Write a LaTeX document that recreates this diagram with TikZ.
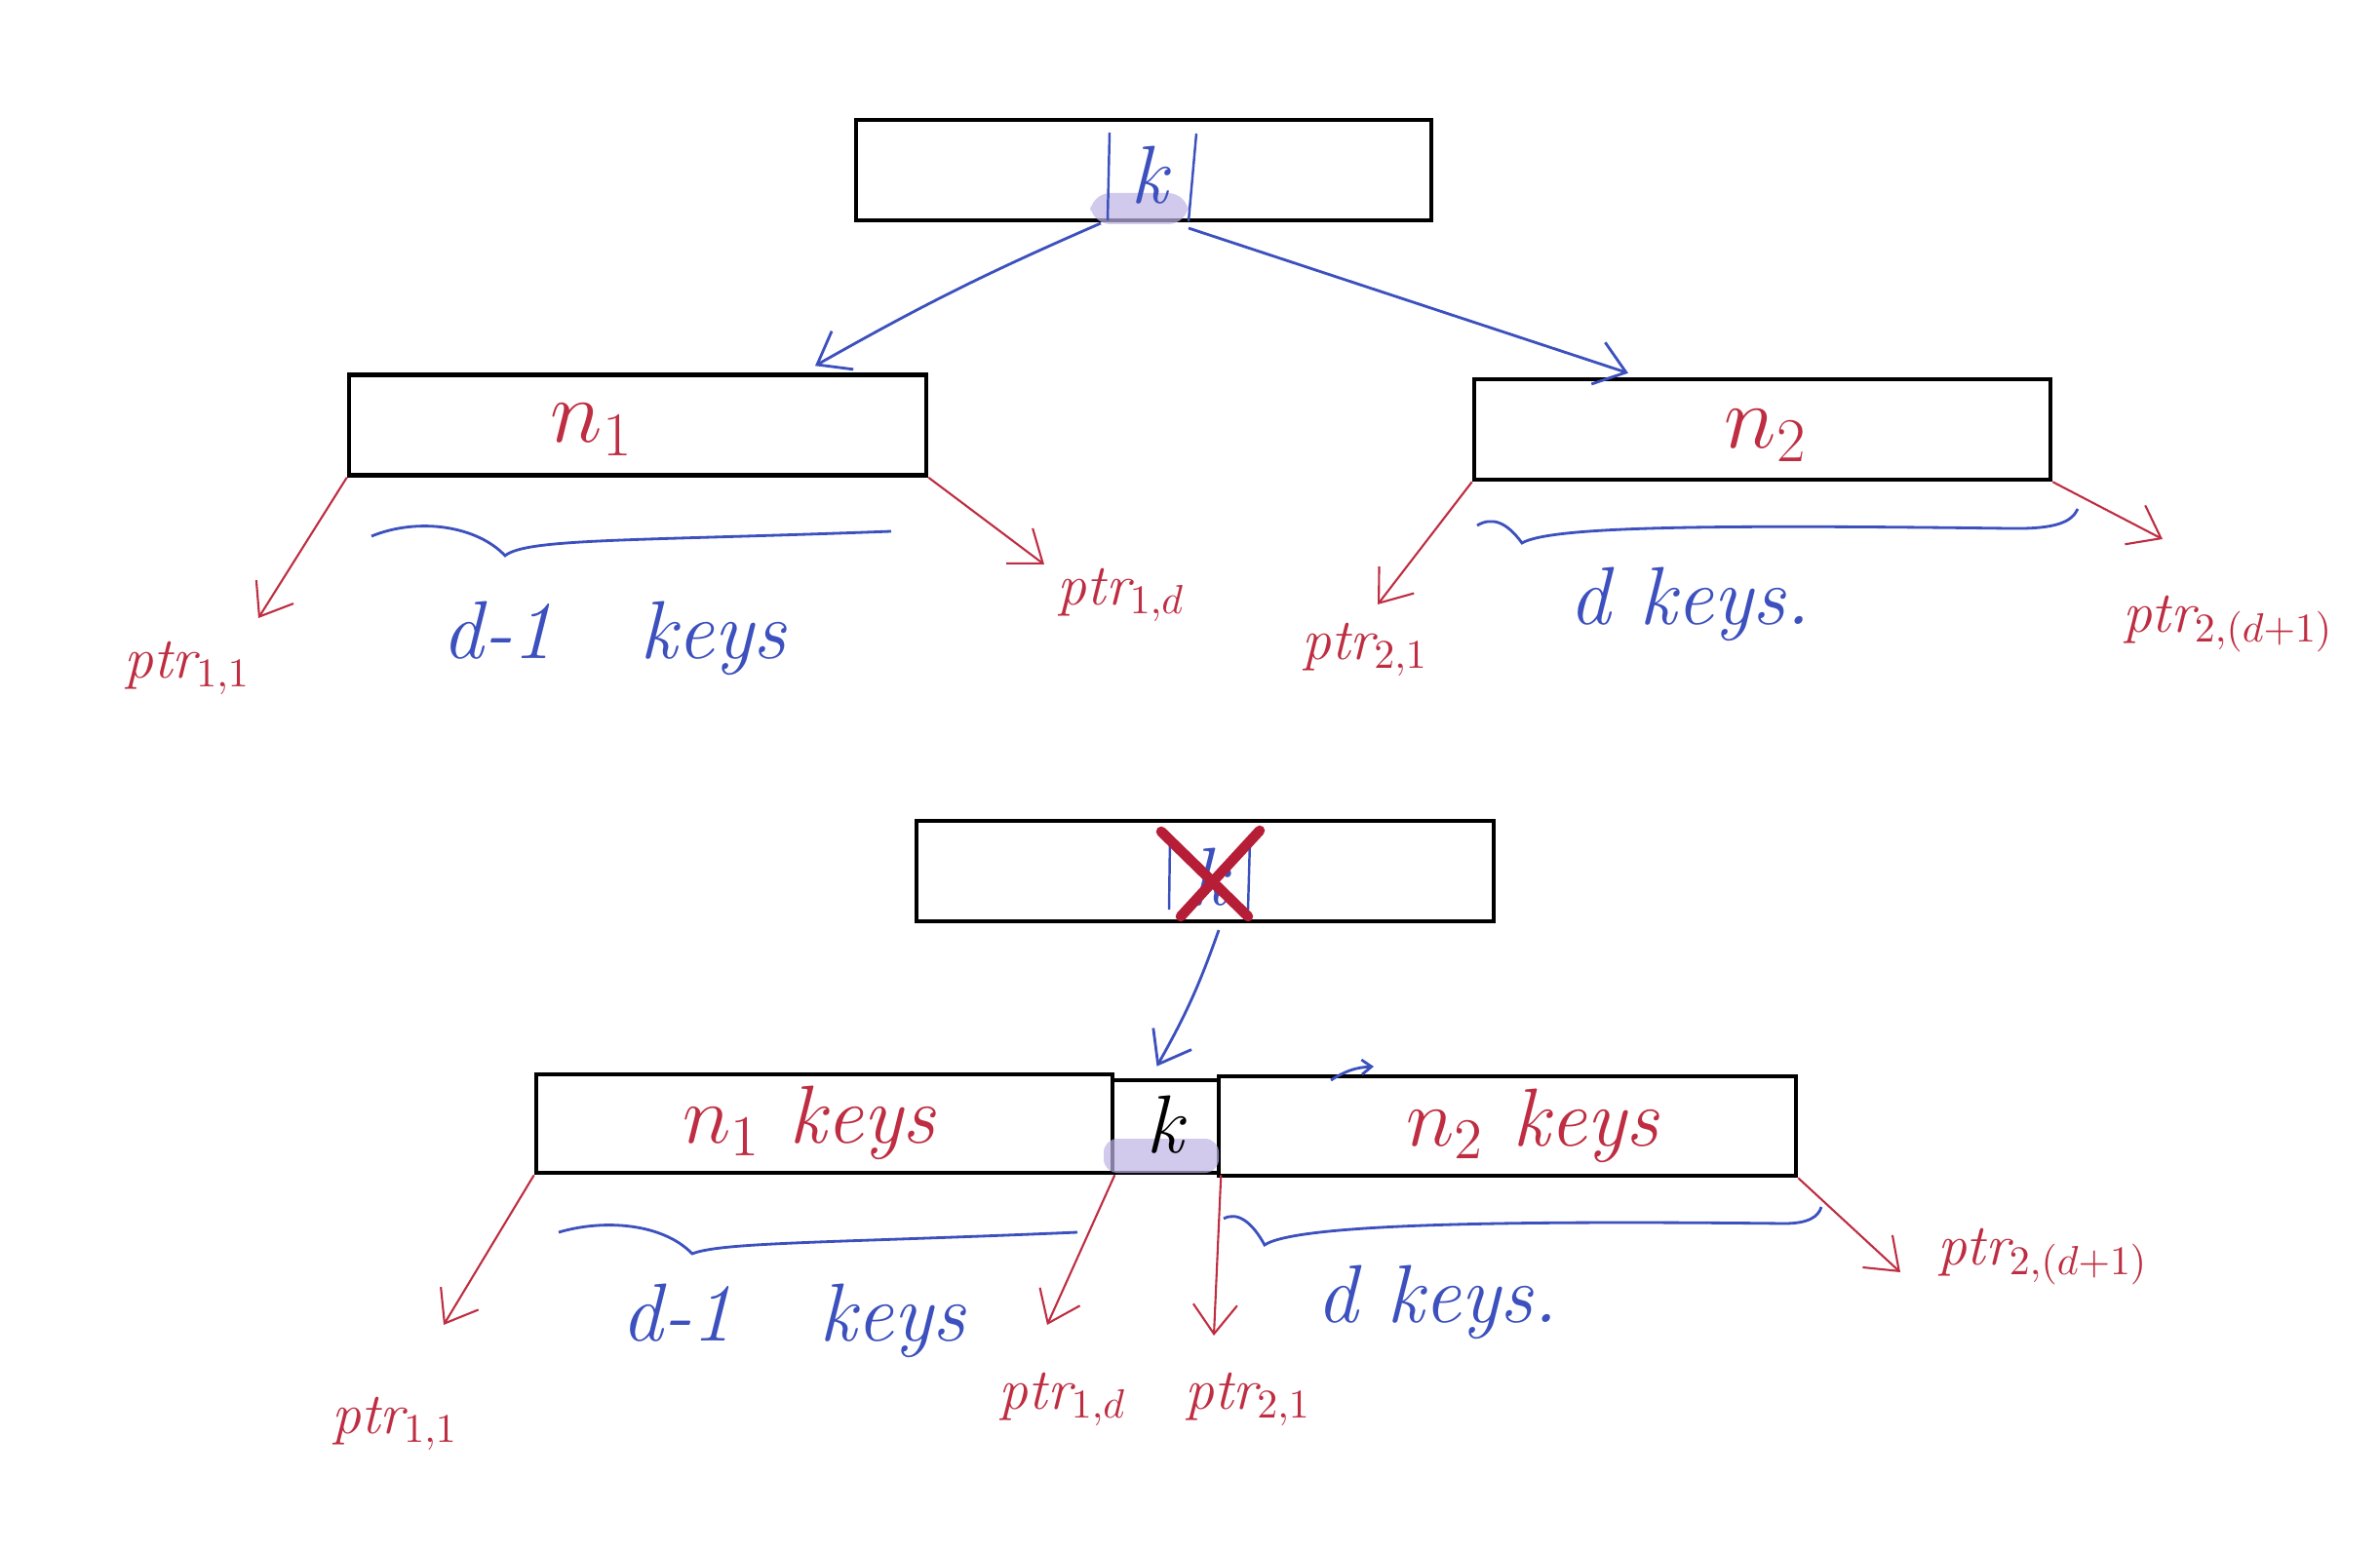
\RequirePackage{fix-cm}
\documentclass[tikz,border=0pt]{standalone}
\usepackage{amsmath}
\usepackage{amssymb}
\usepackage{fontspec}
\usepackage{tikz}
\usepackage{xcolor}
\usetikzlibrary{arrows.meta}

\definecolor{inkred}{RGB}{190,45,65}
\definecolor{crossred}{RGB}{182,30,55}
\definecolor{inkblue}{RGB}{60,80,190}
\definecolor{marker}{RGB}{190,180,228}

\begin{document}
\begin{tikzpicture}[
  keybox/.style={draw=black, line width=1.3pt, inner sep=0pt, minimum height=1.03cm},
  ptrarrow/.style={inkred, line width=0.6pt, -{Straight Barb[length=3mm,width=4.5mm]}},
  childarrow/.style={inkblue, line width=0.8pt, -{Straight Barb[length=3mm,width=4.5mm]}},
  keybrace/.style={inkblue, line width=0.8pt},
  ptrlabel/.style={inkred, font=\fontsize{17}{20}\selectfont\itshape},
  countlabel/.style={inkblue, font=\fontsize{24}{28}\selectfont\itshape},
  nodelabel/.style={inkred, font=\fontsize{26}{30}\selectfont\itshape},
  ]
\useasboundingbox (0,0) rectangle (24.41,-15.94);

% before the split
\node[keybox, minimum width=5.90cm] (root) at (11.73,-1.745) {};
\node[keybox, minimum width=5.92cm] (n1) at (6.54,-4.36) {};
\node[keybox, minimum width=5.91cm] (n2) at (18.075,-4.405) {};

\fill[marker, opacity=0.7, rounded corners=6pt] (11.18,-1.98) rectangle (12.19,-2.30);
\draw[inkblue, line width=0.7pt] (11.38,-1.36) -- (11.36,-2.26);
\draw[inkblue, line width=0.7pt] (12.27,-1.37) -- (12.19,-2.27);
\node[inkblue, font=\fontsize{24}{28}\selectfont\itshape] (rootkey) at (11.78,-1.80) {k};

\coordinate (kleft) at (11.29,-2.29);
\coordinate (kright) at (12.19,-2.34);
\draw[childarrow] (kleft) to[bend right=3] ([xshift=1.82cm,yshift=0.07cm]n1.north);
\draw[childarrow] (kright) -- ([xshift=-1.375cm,yshift=0.04cm]n2.north);

\node[nodelabel] (n1name) at (6.07,-4.41) {$n_1$};
\node[nodelabel] (n2name) at (18.11,-4.47) {$n_2$};

\coordinate (p11top) at (2.65,-6.34);
\coordinate (p1dtop) at (10.71,-5.79);
\coordinate (p21top) at (14.13,-6.20);
\coordinate (p2dtop) at (22.18,-5.53);
\draw[ptrarrow] (n1.south west) -- (p11top);
\draw[ptrarrow] (n1.south east) -- (p1dtop);
\draw[ptrarrow] (n2.south west) -- (p21top);
\draw[ptrarrow] (n2.south east) -- (p2dtop);

\node[ptrlabel] (ptr11top) at (1.92,-6.85) {ptr$_{1,1}$};
\node[ptrlabel] (ptr1dtop) at (11.50,-6.10) {ptr$_{1,d}$};
\node[ptrlabel] (ptr21top) at (14.00,-6.66) {ptr$_{2,1}$};
\node[ptrlabel] (ptr2dtop) at (22.85,-6.40) {ptr$_{2,(d+1)}$};

\draw[keybrace] (3.81,-5.50) .. controls (4.3,-5.30) and (4.9,-5.40) .. (5.18,-5.70)
  .. controls (5.4,-5.52) and (6.5,-5.55) .. (9.14,-5.45);
\draw[keybrace] (15.15,-5.39) .. controls (15.30,-5.30) and (15.45,-5.35) .. (15.61,-5.57)
  .. controls (15.9,-5.40) and (17.5,-5.38) .. (20.6,-5.42) .. controls (21.1,-5.43) and (21.25,-5.35) .. (21.31,-5.22);

\node[countlabel] (cnt1top) at (6.30,-6.55) {d-1\ \ \ keys};
\node[countlabel] (cnt2top) at (17.33,-6.20) {d keys.};

% after the split
\node[keybox, minimum width=5.92cm] (oldroot) at (12.36,-8.935) {};
\draw[inkblue, line width=0.7pt] (12.00,-8.60) -- (11.99,-9.33);
\draw[inkblue, line width=0.7pt] (12.82,-8.62) -- (12.80,-9.33);
\node[inkblue, font=\fontsize{24}{28}\selectfont\itshape] (oldkey) at (12.40,-9.00) {k};
\draw[crossred, line width=3pt, line cap=round] (11.91,-8.53) -- (12.80,-9.40);
\draw[crossred, line width=3pt, line cap=round] (12.92,-8.52) -- (12.11,-9.40);

\node[keybox, minimum width=5.91cm, minimum height=1.01cm] (n1keys) at (8.455,-11.525) {};
\node[keybox, minimum width=1.09cm, minimum height=0.95cm] (kbox) at (11.955,-11.555) {};
\node[keybox, minimum width=5.92cm, minimum height=1.02cm] (n2keys) at (15.46,-11.55) {};
\fill[marker, opacity=0.7, rounded corners=4pt] (11.32,-11.68) rectangle (12.50,-12.03);

\coordinate (xdown) at (12.50,-9.54);
\draw[childarrow] (xdown) to[bend left=5] ([xshift=-0.09cm,yshift=0.12cm]kbox.north);
\draw[inkblue, line width=0.8pt, -{Straight Barb[length=1mm,width=1.5mm]}] (13.65,-11.08) to[bend left=15] (14.09,-10.94);

\node[nodelabel, font=\fontsize{24}{28}\selectfont\itshape] (n1keyname) at (8.30,-11.52) {$n_1$ keys};
\node[font=\fontsize{24}{28}\selectfont\itshape] (kname) at (11.94,-11.54) {k};
\node[nodelabel, font=\fontsize{24}{28}\selectfont\itshape] (n2keyname) at (15.72,-11.55) {$n_2$ keys};

\coordinate (p11bot) at (4.55,-13.59);
\coordinate (p1dbot) at (10.74,-13.59);
\coordinate (p21bot) at (12.45,-13.70);
\coordinate (p2dbot) at (19.49,-13.05);
\draw[ptrarrow] (n1keys.south west) -- (p11bot);
\draw[ptrarrow] (n1keys.south east) -- (p1dbot);
\draw[ptrarrow] (kbox.south east) -- (p21bot);
\draw[ptrarrow] (n2keys.south east) -- (p2dbot);

\node[ptrlabel] (ptr11bot) at (4.05,-14.60) {ptr$_{1,1}$};
\node[ptrlabel] (ptr1dbot) at (10.90,-14.35) {ptr$_{1,d}$};
\node[ptrlabel] (ptr21bot) at (12.80,-14.35) {ptr$_{2,1}$};
\node[ptrlabel] (ptr2dbot) at (20.95,-12.89) {ptr$_{2,(d+1)}$};

\draw[keybrace] (5.73,-12.64) .. controls (6.2,-12.50) and (6.8,-12.55) .. (7.10,-12.86)
  .. controls (7.4,-12.74) and (8.5,-12.75) .. (11.05,-12.64);
\draw[keybrace] (12.55,-12.50) .. controls (12.70,-12.42) and (12.85,-12.55) .. (12.97,-12.77)
  .. controls (13.3,-12.55) and (15.5,-12.52) .. (18.3,-12.55) .. controls (18.55,-12.55) and (18.65,-12.48) .. (18.68,-12.38);

\node[countlabel] (cnt1bot) at (8.14,-13.55) {d-1\ \ \ keys};
\node[countlabel] (cnt2bot) at (14.74,-13.36) {d keys.};
\end{tikzpicture}
\end{document}
